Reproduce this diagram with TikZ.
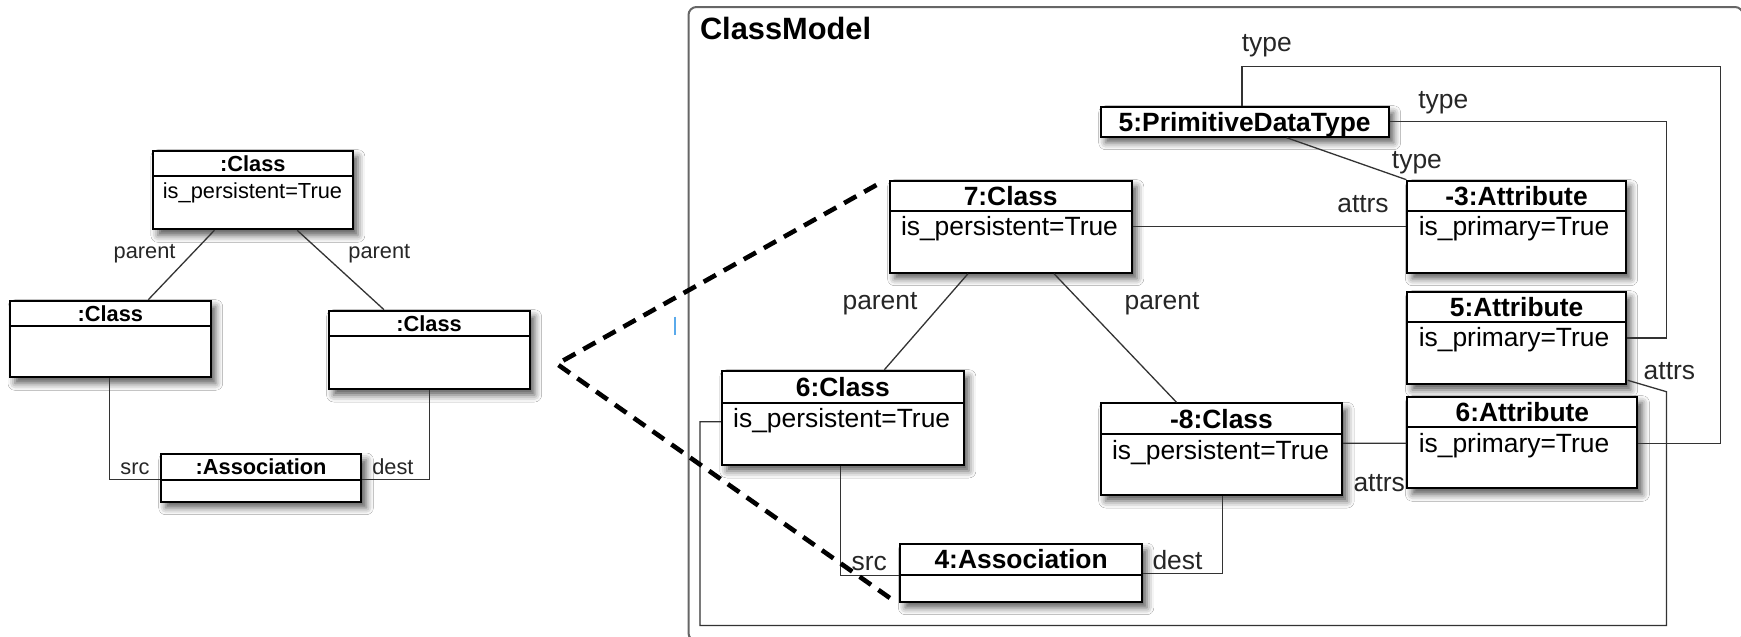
\documentclass[tikz,border=0pt]{standalone}
\usepackage{fontspec}
\setmainfont{Liberation Sans}
\usetikzlibrary{fit,calc,shadows.blur}

% one UML object: name, x1, y1, x2, y2, separator y, title, attribute, size (R or L)
\newcommand\umlobj[9]{%
  \node[objbox, fit={(#2,#3) (#4,#5)}] (#1) {};
  \draw[sepline] (#2,#6) -- (#4,#6);
  \node[ttl#9] (#1-t) at ({(#2+#4)/2},{(#3+#6)/2}) {#7};
  \node[att#9] (#1-a) at (#2,#6) {#8};
}

\begin{document}
\begin{tikzpicture}[x=0.5pt,y=-0.5pt,
  objbox/.style={draw=black, line width=1pt, fill=white, inner sep=0pt,
    blur shadow={shadow xshift=2.5pt, shadow yshift=-3pt, shadow blur radius=3.5pt, shadow opacity=65}},
  sepline/.style={line width=0.9pt, black},
  conn/.style={line width=0.65pt, draw=black!80},
  ttlR/.style={font=\fontsize{13.2}{15}\selectfont\bfseries, inner sep=0pt, text height=9.45pt, text depth=0pt},
  ttlL/.style={font=\fontsize{10.9}{13}\selectfont\bfseries, inner sep=0pt, text height=7.8pt, text depth=0pt},
  attR/.style={font=\fontsize{13.2}{15}\selectfont, inner sep=0pt, anchor=base west, xshift=5.5pt, yshift=-12.5pt},
  attL/.style={font=\fontsize{10.9}{13}\selectfont, inner sep=0pt, anchor=base west, xshift=4.8pt, yshift=-11.2pt},
  lblR/.style={font=\fontsize{13.2}{15}\selectfont, inner sep=0pt, text height=9.45pt, text depth=0pt, text=black!85},
  lblL/.style={font=\fontsize{10.9}{13}\selectfont, inner sep=0pt, text height=7.8pt, text depth=0pt, text=black!85},
  pkgframe/.style={draw=black!60, line width=1pt, rounded corners=4pt, inner sep=0pt},
  cmtitle/.style={font=\fontsize{15.4}{18}\selectfont\bfseries, inner sep=0pt, text height=11pt, text depth=0pt},
  zoomdash/.style={line width=2.3pt, dash pattern=on 7pt off 4.5pt},
]
\useasboundingbox (0,0) rectangle (1741,637);
\fill[white] (0,0) rectangle (1741,637);

% ---------- pattern on the left ----------
\umlobj{ltop}{152.9}{150.7}{352.9}{229.3}{176}{:Class}{is\_persistent=True}{L}
\umlobj{lleft}{10}{300.7}{210.7}{377.3}{326}{:Class}{}{L}
\umlobj{lright}{328.6}{310.7}{529.6}{389}{336}{:Class}{}{L}
\umlobj{lassoc}{160.7}{454}{361.4}{501.7}{480}{:Association}{}{L}

\draw[conn] ($(ltop.south west)+(62.5,0)$) -- ($(lleft.north west)+(139.3,0)$);
\draw[conn] ($(ltop.south west)+(145.3,0)$) -- ($(lright.north west)+(56.4,0)$);
\draw[conn] ($(lleft.south west)+(100.7,0)$) |- ($(lassoc.north west)+(0,26.7)$);
\draw[conn] ($(lright.south west)+(101.8,0)$) |- ($(lassoc.north east)+(0,26.7)$);

\node[lblL] (pl1) at (144.6,250.7) {parent};
\node[lblL] (pl2) at (379.3,250.7) {parent};
\node[lblL] (srcl) at (135,466.7) {src};
\node[lblL] (destl) at (392.9,466.7) {dest};

% ---------- the ClassModel instance ----------
\node[pkgframe, fit={(688.5,7) (1743,641)}] (cm) {};
\node[cmtitle, anchor=west] (cm-t) at (699.6,28.3) {ClassModel};

\node[objbox, fit={(1100.7,106.7) (1388.6,136.7)}] (pdt) {};
\node[ttlR] (pdt-t) at (pdt.center) {5:PrimitiveDataType};

\umlobj{c7}{889.6}{180.7}{1131.8}{272.7}{210.7}{7:Class}{is\_persistent=True}{R}
\umlobj{a3}{1407.4}{180.7}{1625.7}{272.7}{210.7}{-3:Attribute}{is\_primary=True}{R}
\umlobj{a5}{1407.4}{291.7}{1625.7}{384}{321.7}{5:Attribute}{is\_primary=True}{R}
\umlobj{a6}{1407.4}{396.7}{1637.4}{488.3}{427.3}{6:Attribute}{is\_primary=True}{R}
\umlobj{c6}{721.8}{370.7}{963.9}{465}{402.7}{6:Class}{is\_persistent=True}{R}
\umlobj{c8}{1100.7}{403.3}{1342.2}{495}{434}{-8:Class}{is\_persistent=True}{R}
\umlobj{as4}{900.4}{544}{1141.8}{601.7}{575}{4:Association}{}{R}

% routing corners
\coordinate (t1c) at (1720.5,66.7);
\coordinate (t2c) at (1666.4,200);
\coordinate (l1) at (700,625.5);
\coordinate (l2) at (1666.4,391.7);

% type links
\draw[conn] ($(pdt.north west)+(142.4,0)$) |- (t1c) |- ($(a6.north east)+(0,47.6)$);
\draw[conn] (pdt.east) -| (t2c) |- (a5.east);
\draw[conn] ($(pdt.south west)+(186.9,0)$) -- (a3.north west);

% attrs links
\draw[conn] (c7.east) -- (a3.west);
\draw[conn] ($(c8.north east)+(0,41)$) -- ($(a6.north west)+(0,47.6)$);
\draw[conn] ($(c6.north west)+(0,52)$) -| (l1) -| (l2) -- ($(a5.south east)+(1,-4.7)$);

% parent links
\draw[conn] ($(c7.south west)+(79.4,0)$) -- ($(c6.north west)+(163.6,0)$);
\draw[conn] ($(c7.south west)+(165.4,0)$) -- ($(c8.north west)+(76.8,0)$);

% src / dest links
\draw[conn] ($(c6.south west)+(119.6,0)$) |- ($(as4.north west)+(0,32.7)$);
\draw[conn] ($(c8.south west)+(122.9,0)$) |- ($(as4.north east)+(0,30.3)$);

\node[lblR] (ty1) at (1266.8,41.7) {type};
\node[lblR] (ty2) at (1443.3,99.3) {type};
\node[lblR] (ty3) at (1416.9,159.3) {type};
\node[lblR] (at1) at (1363,203.3) {attrs};
\node[lblR] (at2) at (1379.2,481.7) {attrs};
\node[lblR] (at3) at (1669.4,370) {attrs};
\node[lblR] (pr1) at (880,300) {parent};
\node[lblR] (pr2) at (1162,300) {parent};
\node[lblR] (srcr) at (869.3,560.7) {src};
\node[lblR] (destr) at (1177.5,560) {dest};

% zoom indicator
\coordinate (zA) at (876.4,185);
\coordinate (zB) at (557,364);
\coordinate (zC) at (897,603);
\draw[zoomdash] (zA) -- (zB) -- (zC);

% small cursor mark
\draw[line width=0.7pt, color={rgb,255:red,90;green,170;blue,235}] (675,316.7) -- (675,335);
\end{tikzpicture}
\end{document}
